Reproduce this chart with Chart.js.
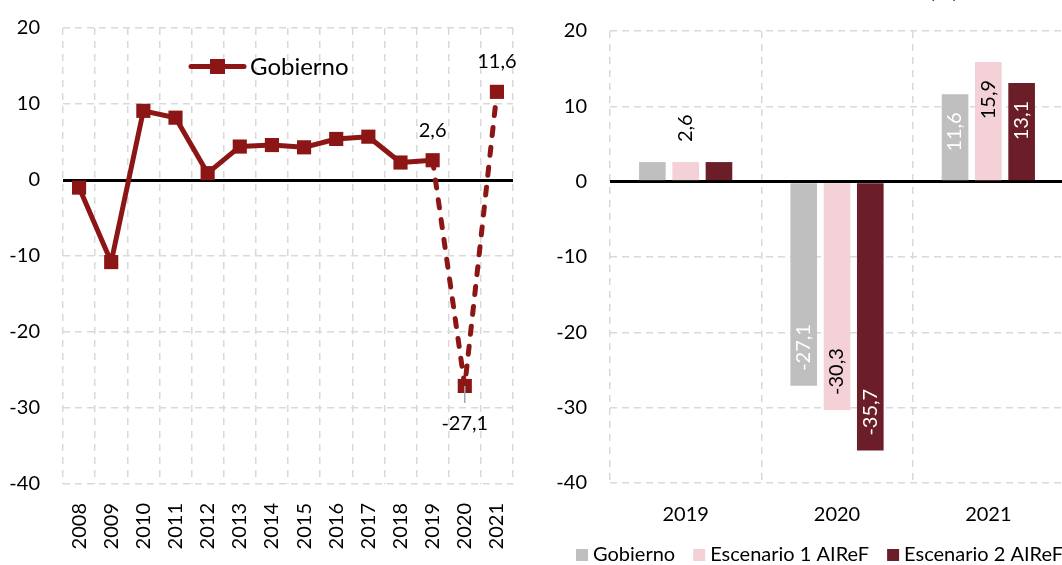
<!DOCTYPE html>
<html>
<head>
<meta charset="utf-8">
<script src="https://cdn.jsdelivr.net/npm/chart.js@4.4.1/dist/chart.umd.min.js"></script>
<style>
    html, body { margin: 0; padding: 0; background: #fff; overflow: hidden; }
    body { width: 1062px; height: 565px; position: relative; font-family: Lato, sans-serif; }
    #left { position: absolute; left: 0; top: 0; width: 530px; height: 565px; }
    #right { position: absolute; left: 530px; top: 0; width: 540px; height: 565px; }
    #titleCut { position: absolute; left: 929px; top: -24px; font-size: 22px; color: #8C1515; }
</style>
</head>
<body>
<div id="left"><canvas id="lineChart"></canvas></div>
<div id="right"><canvas id="barChart"></canvas></div>
<div id="titleCut">(%)</div>
<script>
/* ---------- data ---------- */
const YEARS = ["2008", "2009", "2010", "2011", "2012", "2013", "2014",
               "2015", "2016", "2017", "2018", "2019", "2020", "2021"];
const GOBIERNO_HIST = [-1.0, -10.8, 9.1, 8.2, 0.9, 4.4, 4.6, 4.3, 5.4, 5.7, 2.3, 2.6, -27.1, 11.6];
const LABELLED_YEARS = ["2019", "2020", "2021"];

const BAR_YEARS = ["2019", "2020", "2021"];
const BAR_GOBIERNO = [2.6, -27.1, 11.6];
const BAR_ESC1 = [2.6, -30.3, 15.9];
const BAR_ESC2 = [2.6, -35.7, 13.1];
const SERIES_NAMES = ["Gobierno", "Escenario 1 AIReF", "Escenario 2 AIReF"];

const Y_MIN = -40, Y_MAX = 20, Y_STEP = 10;

/* ---------- style ---------- */
const FONT = "Lato, sans-serif";
const RED = "#8C1515";
const GRID = "#D9D9D9";
const BAR_COLORS = ["#BFBFBF", "#F3D1D6", "#6B1D28"];
const BAR_TEXT = ["#FFFFFF", "#000000", "#FFFFFF"];

Chart.defaults.font.family = FONT;
Chart.defaults.color = "#000";

function fmt(v) { return v.toFixed(1).replace(".", ","); }

// keep the plot box where the layout padding puts it
function noScalePadding(s) {
    s.paddingTop = 0; s.paddingBottom = 0;
    s.paddingLeft = 0; s.paddingRight = 0;
}

function yScale(width) {
    return {
        min: Y_MIN, max: Y_MAX,
        ticks: { stepSize: Y_STEP, padding: 23, color: "#000", font: { size: 20 } },
        grid: {
            drawTicks: false,
            color: function (c) { return c.tick && c.tick.value === 0 ? "#000" : GRID; },
            lineWidth: function (c) { return c.tick && c.tick.value === 0 ? 3 : 1.5; }
        },
        border: {
            display: false,
            dash: function (c) { return c.tick && c.tick.value === 0 ? [] : [7, 5]; }
        },
        afterFit: function (s) { s.width = width; noScalePadding(s); }
    };
}

/* ---------- 1. line chart ---------- */
const pointLabels = {
    id: "pointLabels",
    afterDatasetsDraw: function (chart) {
        const ctx = chart.ctx;
        const meta = chart.getDatasetMeta(0);
        ctx.save();
        ctx.font = "20px " + FONT;
        ctx.textAlign = "center";
        ctx.textBaseline = "middle";
        ctx.fillStyle = "#000";
        LABELLED_YEARS.forEach(function (yr) {
            const i = YEARS.indexOf(yr);
            const p = meta.data[i];
            const v = GOBIERNO_HIST[i];
            if (v >= 0) {
                ctx.fillText(fmt(v), p.x, p.y - 30);
            } else {
                ctx.strokeStyle = "#A6A6A6";
                ctx.lineWidth = 1.5;
                ctx.beginPath();
                ctx.moveTo(p.x, p.y);
                ctx.lineTo(p.x, p.y + 17);
                ctx.stroke();
                ctx.fillText(fmt(v), p.x, p.y + 38);
            }
        });
        ctx.restore();
    },
    afterDraw: function (chart) {
        // legend inside the plot
        const ctx = chart.ctx;
        const y = 66.5;
        ctx.save();
        ctx.strokeStyle = RED;
        ctx.lineWidth = 5;
        ctx.lineCap = "round";
        ctx.beginPath();
        ctx.moveTo(191, y);
        ctx.lineTo(244, y);
        ctx.stroke();
        ctx.fillStyle = RED;
        ctx.fillRect(210, y - 7.5, 15, 15);
        ctx.fillStyle = "#000";
        ctx.font = "24px " + FONT;
        ctx.textBaseline = "middle";
        ctx.fillText("Gobierno", 250, y + 1);
        ctx.restore();
    }
};

new Chart(document.getElementById("lineChart"), {
    type: "line",
    data: {
        labels: YEARS,
        datasets: [{
            label: "Gobierno",
            data: GOBIERNO_HIST,
            borderColor: RED,
            backgroundColor: RED,
            borderWidth: 5,
            borderJoinStyle: "round",
            borderCapStyle: "round",
            pointStyle: "rect",
            pointRadius: 10,
            pointHoverRadius: 10,
            pointBorderWidth: 0,
            tension: 0,
            segment: {
                borderDash: function (c) { return c.p0DataIndex >= 11 ? [8, 12] : undefined; }
            }
        }]
    },
    options: {
        responsive: true,
        maintainAspectRatio: false,
        animation: false,
        layout: { padding: { top: 28, right: 17, left: 0, bottom: 0 } },
        plugins: { legend: { display: false }, tooltip: { enabled: false } },
        scales: {
            x: {
                offset: true,
                grid: { offset: true, color: GRID, lineWidth: 1.5, drawTicks: false },
                border: { display: false, dash: [7, 6] },
                ticks: { minRotation: 90, maxRotation: 90, padding: 19, color: "#000", font: { size: 20 } },
                afterFit: function (s) { s.height = 81; noScalePadding(s); }
            },
            y: yScale(63)
        }
    },
    plugins: [pointLabels]
});

/* ---------- 2. bar chart ---------- */
const barLabels = {
    id: "barLabels",
    afterDatasetsDraw: function (chart) {
        const ctx = chart.ctx;
        ctx.save();
        ctx.font = "20px " + FONT;
        ctx.textBaseline = "middle";
        chart.data.datasets.forEach(function (ds, di) {
            chart.getDatasetMeta(di).data.forEach(function (bar, i) {
                const v = ds.data[i];
                const outside = BAR_YEARS[i] === "2019";
                if (outside && di !== 1) { return; }
                let y, align;
                if (outside) {
                    y = bar.y - 20; align = "left"; ctx.fillStyle = "#000";
                } else if (v < 0) {
                    y = bar.y - 15; align = "left"; ctx.fillStyle = BAR_TEXT[di];
                } else {
                    y = bar.y + 18; align = "right"; ctx.fillStyle = BAR_TEXT[di];
                }
                ctx.save();
                ctx.translate(bar.x, y);
                ctx.rotate(-Math.PI / 2);
                ctx.textAlign = align;
                ctx.fillText(fmt(v), 0, 0);
                ctx.restore();
            });
        });
        ctx.restore();
    },
    afterDraw: function (chart) {
        // legend along the bottom
        const ctx = chart.ctx;
        const y = 555;
        let x = 46;
        ctx.save();
        ctx.font = "20px " + FONT;
        ctx.textBaseline = "middle";
        SERIES_NAMES.forEach(function (name, i) {
            ctx.fillStyle = BAR_COLORS[i];
            ctx.fillRect(x, y - 6, 12, 12);
            ctx.fillStyle = "#000";
            ctx.fillText(name, x + 17, y);
            x += 17 + ctx.measureText(name).width + 18;
        });
        ctx.restore();
    }
};

new Chart(document.getElementById("barChart"), {
    type: "bar",
    data: {
        labels: BAR_YEARS,
        datasets: [
            { label: SERIES_NAMES[0], data: BAR_GOBIERNO, backgroundColor: BAR_COLORS[0] },
            { label: SERIES_NAMES[1], data: BAR_ESC1, backgroundColor: BAR_COLORS[1] },
            { label: SERIES_NAMES[2], data: BAR_ESC2, backgroundColor: BAR_COLORS[2] }
        ]
    },
    options: {
        responsive: true,
        maintainAspectRatio: false,
        animation: false,
        categoryPercentage: 0.66,
        barPercentage: 0.8,
        layout: { padding: { top: 31, right: 6, left: 0, bottom: 0 } },
        plugins: { legend: { display: false }, tooltip: { enabled: false } },
        scales: {
            x: {
                grid: { offset: true, color: GRID, lineWidth: 1.5, drawTicks: false },
                border: { display: false, dash: [7, 6] },
                ticks: { padding: 20, color: "#000", font: { size: 20 } },
                afterFit: function (s) { s.height = 82; noScalePadding(s); }
            },
            y: yScale(80)
        }
    },
    plugins: [barLabels]
});
</script>
</body>
</html>
